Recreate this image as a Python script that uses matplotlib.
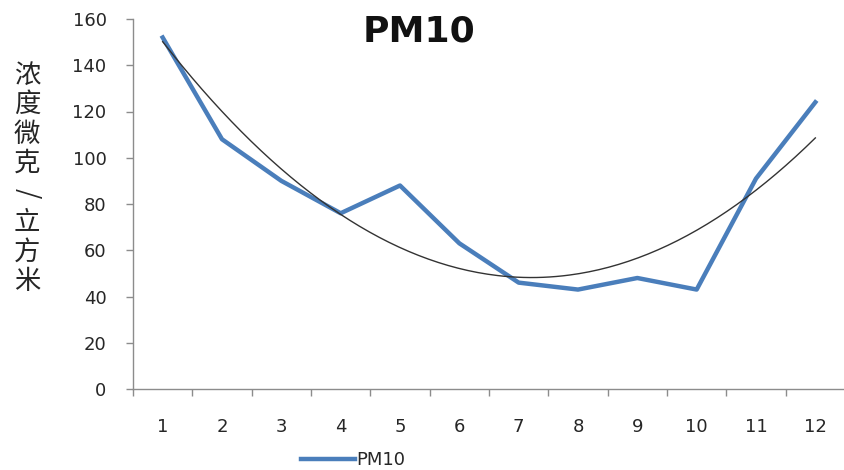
import numpy as np
import matplotlib
matplotlib.use('Agg')
import matplotlib.pyplot as plt

plt.rcParams['font.family'] = ['DejaVu Sans', 'Noto Sans CJK SC']

# 数据
months = np.arange(1, 13)
pm10 = [152, 108, 90, 76, 88, 63, 46, 43, 48, 43, 91, 124]
title = "PM10"
ylabel = "浓度微克/立方米"
yticks = [0, 20, 40, 60, 80, 100, 120, 140, 160]

blue = '#4a7ebb'
axis_gray = '#8c8c8c'
text_col = '#262626'

fig = plt.figure(figsize=(8.45, 4.7), dpi=100)
ax = fig.add_axes([133 / 845, 81 / 470, 1 - 133 / 845, 370 / 470])

# 多项式趋势线（二次，同 Excel）
coef = np.polyfit(months, pm10, 2)
xs = np.linspace(1, 12, 200)
ax.plot(xs, np.polyval(coef, xs), color='#333333', lw=1.0, zorder=3)
ax.plot(months, pm10, color=blue, lw=3.2, solid_joinstyle='round', zorder=2, label='PM10')

ax.set_xlim(0.5, 12.5)
ax.set_ylim(0, 160)
ax.set_yticks(yticks)
ax.set_xticks(months)
ax.set_xticks(np.arange(0.5, 12.6, 1), minor=True)
ax.tick_params(axis='x', which='major', length=0, pad=21, labelsize=13, labelcolor=text_col)
ax.tick_params(axis='x', which='minor', length=5, width=1, color=axis_gray, direction='out')
ax.tick_params(axis='y', length=5, width=1, color=axis_gray, pad=14, labelsize=13, labelcolor=text_col)

for s in ['top', 'right']:
    ax.spines[s].set_visible(False)
for s in ['left', 'bottom']:
    ax.spines[s].set_color(axis_gray)
    ax.spines[s].set_linewidth(1)

fig.text(419 / 845, 1 - 31 / 470, title, ha='center', va='center',
         fontsize=26, fontweight='bold', color='#111111')

# 竖排标题
y0 = 75
for i, ch in enumerate(ylabel):
    rot = -90 if ch == '/' else 0
    fig.text(27 / 845, 1 - (y0 + i * 29.5) / 470, ch, ha='center', va='center',
             fontsize=19, rotation=rot, color=text_col,
             family=['Noto Sans CJK SC', 'DejaVu Sans'])

leg = fig.legend(handles=[ax.lines[1]], labels=['PM10'], loc='center',
                 bbox_to_anchor=(353 / 845, 1 - 460 / 470), frameon=False,
                 handlelength=3.0, handletextpad=0.1, fontsize=13, labelcolor=text_col)

fig.savefig('out.png', dpi=100)
